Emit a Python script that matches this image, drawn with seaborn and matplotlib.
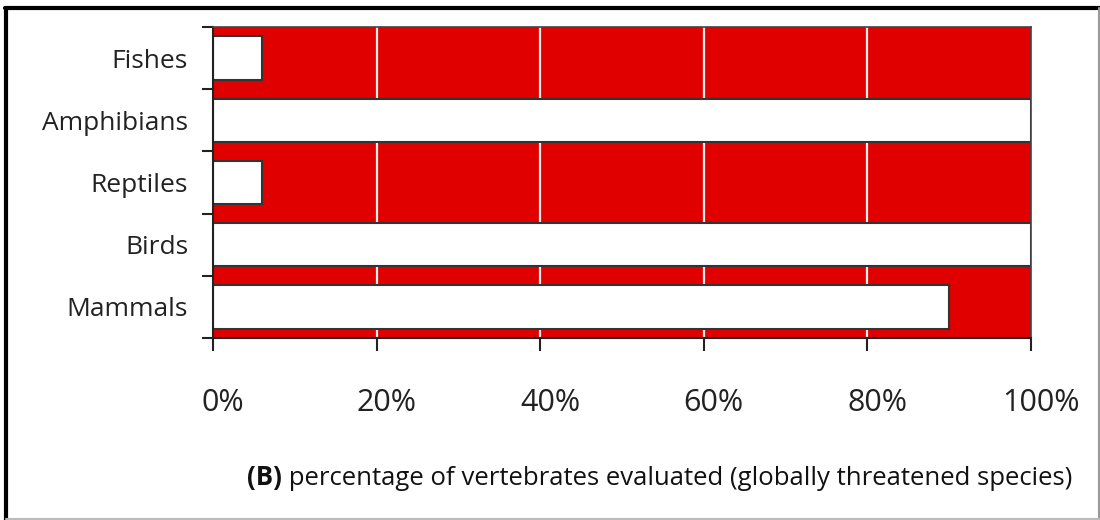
import matplotlib
matplotlib.use('Agg')
import matplotlib.pyplot as plt
import matplotlib.transforms as mtransforms
from matplotlib.lines import Line2D
import seaborn as sns
import pandas as pd

# data
groups = ['Fishes', 'Amphibians', 'Reptiles', 'Birds', 'Mammals']
evaluated = [6, 100, 6, 100, 90]
total = [100, 100, 100, 100, 100]
xticks = [0, 20, 40, 60, 80, 100]
xtick_labels = ['0%', '20%', '40%', '60%', '80%', '100%']

df = pd.DataFrame({'group': groups, 'evaluated': evaluated, 'total': total})

sns.set_style('white')
plt.rcParams['font.family'] = ['Open Sans', 'DejaVu Sans']

fig = plt.figure(figsize=(11, 5.2), dpi=100)
ax = fig.add_axes([213 / 1100, 182 / 520, 818 / 1100, 311 / 520])

# red background bars (wider than the band, clipped by the axes)
sns.barplot(data=df, x='total', y='group', orient='h', color='#e10000',
            saturation=1, width=1.33, linewidth=0, ax=ax, zorder=1)
# white evaluated bars
sns.barplot(data=df, x='evaluated', y='group', orient='h', color='white',
            saturation=1, width=0.7, edgecolor='#333333', linewidth=1.5,
            ax=ax, zorder=3)

ax.set_xlim(0, 100)
ax.set_ylim(4.5, -0.5)

for xv in xticks[1:-1]:
    ax.axvline(xv, color='#f6eeee', lw=1.6, zorder=2)

ax.set_xticks(xticks)
ax.set_xticklabels(xtick_labels, fontsize=22, color='#222222')
ax.set_yticks(range(len(groups)))
ax.set_yticklabels(groups, fontsize=19, color='#222222')
ax.set_yticks([i - 0.5 for i in range(len(groups) + 1)], minor=True)
ax.tick_params(axis='y', which='major', left=True, length=0, pad=18)
ax.tick_params(axis='y', which='minor', left=True, length=8, width=1.5,
               color='#222222', direction='out')
ax.tick_params(axis='x', bottom=True, length=9, width=1.5, color='#222222',
               direction='out', pad=27)
offset = mtransforms.ScaledTranslation(10 / 100, 0, fig.dpi_scale_trans)
for lab in ax.get_xticklabels():
    lab.set_transform(lab.get_transform() + offset)

ax.set_xlabel('')
ax.set_ylabel('')
for side in ['top', 'right']:
    ax.spines[side].set_color('#444444')
    ax.spines[side].set_linewidth(1.2)
    ax.spines[side].set_zorder(5)
for side in ['left', 'bottom']:
    ax.spines[side].set_color('#222222')
    ax.spines[side].set_linewidth(1.5)
    ax.spines[side].set_zorder(5)

# caption with bold "(B)"
t1 = fig.text(247 / 1100, 35 / 520, '(B)', fontsize=18.5, fontweight='bold',
              color='#111111', ha='left', va='baseline')
ax.annotate(' percentage of vertebrates evaluated (globally threatened species)',
            xy=(1, 0), xycoords=t1, fontsize=18.5, color='#111111',
            ha='left', va='bottom', annotation_clip=False)

# outer frame
fig.add_artist(Line2D([5 / 1100, 1], [1 - 8 / 520, 1 - 8 / 520], color='black', lw=3, transform=fig.transFigure))
fig.add_artist(Line2D([6 / 1100, 6 / 1100], [0, 1 - 8 / 520], color='black', lw=3, transform=fig.transFigure))
fig.add_artist(Line2D([1099 / 1100, 1099 / 1100], [0, 1 - 8 / 520], color='#999999', lw=1.5, transform=fig.transFigure))
fig.add_artist(Line2D([6 / 1100, 1], [1 / 520, 1 / 520], color='#bbbbbb', lw=1.5, transform=fig.transFigure))

fig.savefig('out.png', dpi=100)
